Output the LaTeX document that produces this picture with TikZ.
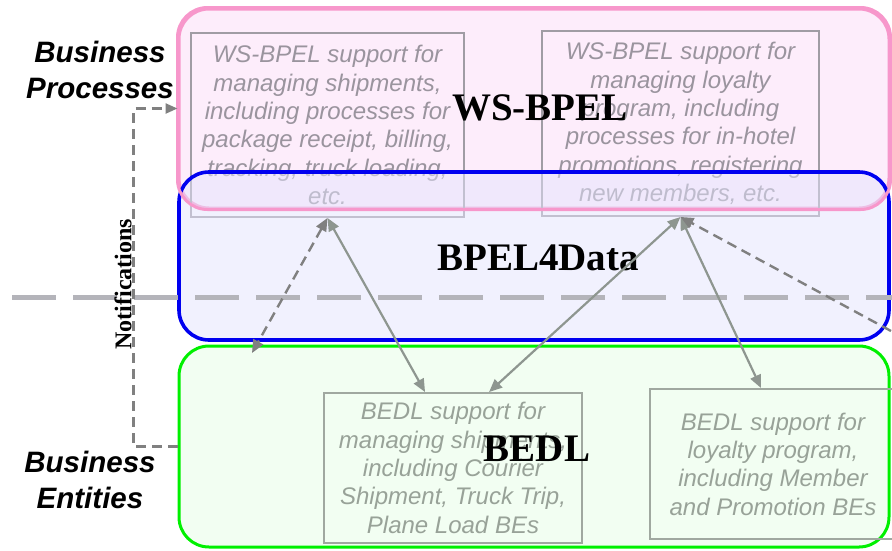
\documentclass[tikz,border=0pt]{standalone}
\usepackage{fontspec}
\setmainfont{Liberation Serif}
\setsansfont{Liberation Sans}
\usetikzlibrary{arrows.meta,calc}

\definecolor{pinkfill}{HTML}{FDEDFB}
\definecolor{pinkline}{HTML}{F797CB}
\definecolor{bluefill}{HTML}{E4E4FD}
\definecolor{blueline}{HTML}{0000F0}
\definecolor{greenfill}{HTML}{F2FEF2}
\definecolor{greenline}{HTML}{00F000}
\definecolor{boxline}{HTML}{A09CA4}
\definecolor{boxtext}{HTML}{9A949E}
\definecolor{gboxline}{HTML}{A0A8A0}
\definecolor{gboxtext}{HTML}{98A298}
\definecolor{linkcol}{HTML}{8E9690}
\definecolor{dashcol}{HTML}{808080}
\definecolor{splitcol}{HTML}{B4B4BA}

\tikzset{
  ltip/.tip={Triangle[length=13pt,width=11pt]},
  ntip/.tip={Triangle[length=12pt,width=10pt]},
}

\begin{document}
\begin{tikzpicture}[x=1pt,y=-1pt,
  region/.style={rounded corners=30pt, line width=3pt, minimum width=710pt, inner sep=0pt},
  infobox/.style={draw, line width=1.9pt, inner sep=0pt, align=center,
    font=\sffamily\itshape\fontsize{24}{28.3}\selectfont},
  layertitle/.style={font=\rmfamily\bfseries\fontsize{39}{44}\selectfont, inner sep=0pt},
  sidelabel/.style={font=\sffamily\bfseries\itshape\fontsize{29.5}{36}\selectfont, align=center, inner sep=0pt},
  link/.style={draw=linkcol, line width=2.2pt, {ltip}-{ltip}},
  dlink/.style={draw=dashcol, line width=2.4pt, dash pattern=on 10pt off 6pt, {ltip}-{ltip}},
  dlinkone/.style={draw=dashcol, line width=2.4pt, dash pattern=on 10pt off 6pt, -{ltip}},
  notify/.style={draw=dashcol, line width=2.4pt, dash pattern=on 10pt off 6pt, -{ntip}},
  split/.style={draw=splitcol, line width=5pt, dash pattern=on 44pt off 17pt},
]
\useasboundingbox (0,0) rectangle (892,550);

% layer regions (process layer and entity layer)
\node[region, fill=pinkfill, draw=pinkline, minimum height=199pt] (pinkrect) at (534,108.5) {};
\node[region, fill=greenfill, draw=greenline, minimum height=201pt] (greenrect) at (534,446.5) {};

% process-level boxes
\node[infobox, draw=boxline, text=boxtext, minimum width=273pt, minimum height=184pt] (tl) at (327.5,125)
  {WS-BPEL support for\\managing shipments,\\including processes for\\package receipt, billing,\\tracking, truck loading,\\etc.};
\node[infobox, draw=boxline, text=boxtext, minimum width=277pt, minimum height=185pt] (tr) at (680.5,123.5)
  {WS-BPEL support for\\managing loyalty\\program, including\\processes for in-hotel\\promotions, registering\\new members, etc.};

% entity-level boxes
\node[infobox, draw=gboxline, text=gboxtext, minimum width=258pt, minimum height=150pt] (bl) at (453,468)
  {BEDL support for\\managing shipments,\\including Courier\\Shipment, Truck Trip,\\Plane Load BEs};
\node[infobox, draw=gboxline, text=gboxtext, minimum width=246pt, minimum height=150pt] (br) at (773,464)
  {BEDL support for\\loyalty program,\\including Member\\and Promotion BEs};

% middle layer, translucent over the process layer
\node[region, fill=bluefill, fill opacity=0.5, draw=blueline, draw opacity=1, line width=3.6pt, minimum height=168pt] (bluerect) at (534,256) {};
\draw[pinkline, line width=3pt, rounded corners=30pt] (pinkrect.south west) rectangle (pinkrect.north east);

% layer titles
\node[layertitle] (wsbpel) at (540,108) {WS-BPEL};
\node[layertitle] (bpeldata) at (538,258) {BPEL4Data};
\node[layertitle] (bedl) at (537,449) {BEDL};

% boundary between process and entity worlds
\draw[split] (12,297) -- (892,297);

% side labels
\node[sidelabel] (bproc) at (100,70) {Business\\Processes};
\node[sidelabel] (bent) at (90,480) {Business\\Entities};

% notifications from entities to processes
\draw[notify] (greenrect.west) -- ++(-44,0) |- (pinkrect.west);
\node[font=\rmfamily\bfseries\fontsize{24}{28}\selectfont, rotate=90, inner sep=0pt] (notif) at (123,284) {Notifications};

% connectors between the boxes
\coordinate (n1) at (252,353);
\coordinate (n2) at (891,331);
\draw[dlink] (tl.south) -- (n1);
\draw[link] (tl.south) -- ([xshift=102pt]bl.north west);
\draw[link] (tr.south) -- ([xshift=166pt]bl.north west);
\draw[link] (tr.south) -- ([xshift=112pt]br.north west);
\draw[dlinkone] (n2) -- (tr.south);
\end{tikzpicture}
\end{document}
